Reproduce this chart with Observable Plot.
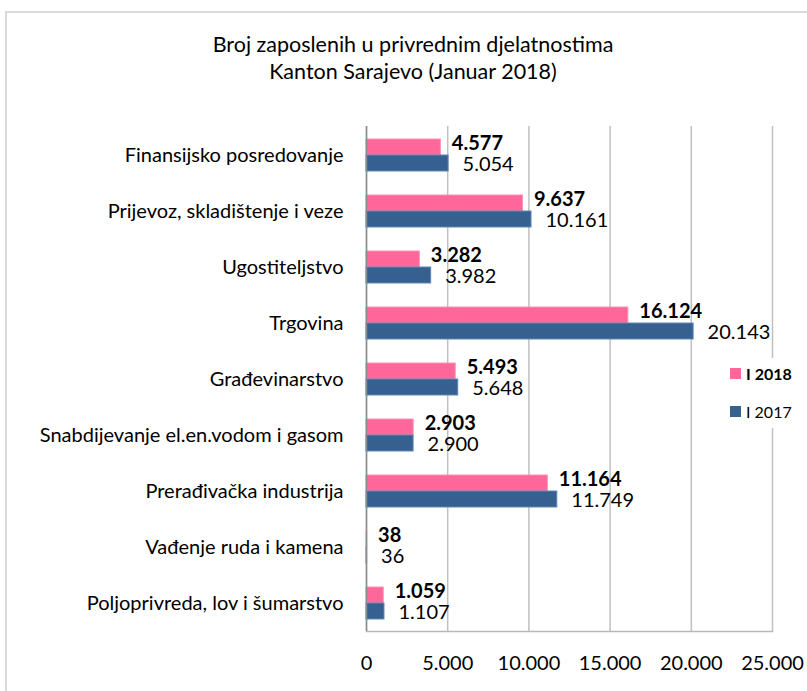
<!DOCTYPE html>
<html>
<head>
<meta charset="utf-8">
<script src="https://cdn.jsdelivr.net/npm/d3@7"></script>
<script src="https://cdn.jsdelivr.net/npm/@observablehq/plot@0.6"></script>
<style>
  html, body { margin: 0; padding: 0; background: #fff; }
  #wrap { position: relative; width: 807px; height: 691px; overflow: hidden; font-family: Lato, "Open Sans", sans-serif; color: #000; }
  #frame { position: absolute; left: 5px; top: 11px; width: 810px; height: 700px; border-left: 2px solid #d9d9d9; border-top: 2px solid #d9d9d9; }
  #title { position: absolute; left: 0; width: 826px; top: 31px; text-align: center; font-size: 21.5px; line-height: 27px; }
  #chart { position: absolute; left: 0; top: 120px; }
  #legend { position: absolute; left: 724px; top: 358px; width: 78px; height: 70px; background: #fff; font-size: 16px; }
  .li { position: absolute; left: 6px; display: flex; align-items: center; }
  .sw { width: 11px; height: 11px; margin-right: 5px; }
</style>
</head>
<body>
<div id="wrap">
  <div id="frame"></div>
  <div id="title">Broj zaposlenih u privrednim djelatnostima<br>Kanton Sarajevo (Januar 2018)</div>
  <div id="chart"></div>
  <div id="legend"></div>
</div>
<script>
const categories = [
  "Finansijsko posredovanje",
  "Prijevoz, skladištenje i veze",
  "Ugostiteljstvo",
  "Trgovina",
  "Građevinarstvo",
  "Snabdijevanje el.en.vodom i gasom",
  "Prerađivačka industrija",
  "Vađenje ruda i kamena",
  "Poljoprivreda, lov i šumarstvo"
];
const values2018 = [4577, 9637, 3282, 16124, 5493, 2903, 11164, 38, 1059];
const values2017 = [5054, 10161, 3982, 20143, 5648, 2900, 11749, 36, 1107];
const seriesNames = ["I 2018", "I 2017"];
const seriesColors = ["#ff6699", "#36608f"];
const xTicks = [0, 5000, 10000, 15000, 20000, 25000];

const fmt = d3.formatLocale({decimal: ",", thousands: ".", grouping: [3], currency: ["", ""]}).format(",d");

const rows2018 = categories.map((c, i) => ({cat: c, v: values2018[i]}));
const rows2017 = categories.map((c, i) => ({cat: c, v: values2017[i]}));

const chart = Plot.plot({
  width: 807,
  height: 560,
  marginLeft: 366,
  marginRight: 35,
  marginTop: 6,
  marginBottom: 49,
  style: {fontFamily: "Lato, 'Open Sans', sans-serif", fontSize: "20px", color: "#000", background: "transparent"},
  x: {domain: [0, 25000], ticks: xTicks},
  y: {domain: categories, padding: 0},
  marks: [
    Plot.gridX(xTicks, {stroke: "#c0c0c0", strokeOpacity: 1, strokeWidth: 1.5}),
    Plot.frame({anchor: "bottom", stroke: "#b8b8b8", strokeWidth: 1.5}),
    Plot.barX(rows2018, {y: "cat", x: "v", fill: seriesColors[0], stroke: "#ff8fb5", strokeWidth: 1, insetTop: 12, insetBottom: 28}),
    Plot.barX(rows2017, {y: "cat", x: "v", fill: seriesColors[1], stroke: "#5f86ba", strokeWidth: 1, insetTop: 28, insetBottom: 12}),
    Plot.ruleX([0], {stroke: "#8c8c8c", strokeWidth: 1.5}),
    Plot.text(rows2018, {y: "cat", x: "v", text: d => fmt(d.v), textAnchor: "start", dx: 11, dy: -12, fontWeight: "bold", fontSize: 20, fill: "#000"}),
    Plot.text(rows2017, {y: "cat", x: "v", text: d => fmt(d.v), textAnchor: "start", dx: 14, dy: 9, fontSize: 20, fill: "#000"}),
    Plot.axisX(xTicks, {tickSize: 0, tickPadding: 24, tickFormat: fmt, fontSize: 20, label: null}),
    Plot.axisY({tickSize: 0, tickPadding: 23, fontSize: 20, label: null})
  ]
});
document.getElementById("chart").appendChild(chart);

const legend = document.getElementById("legend");
seriesNames.forEach((s, i) => {
  const item = document.createElement("div");
  item.className = "li";
  item.style.top = (i === 0 ? 6 : 44) + "px";
  const sw = document.createElement("span");
  sw.className = "sw";
  sw.style.background = seriesColors[i];
  const t = document.createElement("span");
  t.textContent = s;
  if (i === 0) t.style.fontWeight = "bold";
  item.appendChild(sw);
  item.appendChild(t);
  legend.appendChild(item);
});
</script>
</body>
</html>
